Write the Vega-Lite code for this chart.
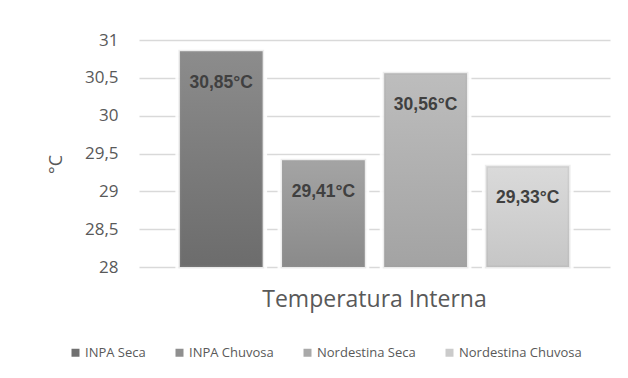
{
  "$schema": "https://vega.github.io/schema/vega-lite/v6.json",
  "width": 471,
  "height": 227,
  "autosize": {"type": "none"},
  "padding": {"left": 139, "top": 40, "right": 18, "bottom": 111},
  "background": "#ffffff",
  "config": {
    "font": "Open Sans",
    "view": {"stroke": null}
  },
  "data": {
    "values": [
      {"grupo": "Temperatura Interna", "serie": "INPA Seca", "valor": 30.85},
      {"grupo": "Temperatura Interna", "serie": "INPA Chuvosa", "valor": 29.41},
      {"grupo": "Temperatura Interna", "serie": "Nordestina Seca", "valor": 30.56},
      {"grupo": "Temperatura Interna", "serie": "Nordestina Chuvosa", "valor": 29.33}
    ]
  },
  "transform": [
    {"calculate": "replace(format(datum.valor, '.2f'), '.', ',') + '°C'", "as": "rotulo"}
  ],
  "encoding": {
    "x": {
      "field": "grupo",
      "type": "nominal",
      "scale": {"paddingInner": 0, "paddingOuter": 0.105},
      "axis": {
        "title": null,
        "labelAngle": 0,
        "labelFontSize": 23,
        "labelLimit": 500,
        "labelColor": "#595959",
        "labelPadding": 21,
        "ticks": false,
        "domain": false
      }
    },
    "xOffset": {
      "field": "serie",
      "type": "nominal",
      "sort": ["INPA Seca", "INPA Chuvosa", "Nordestina Seca", "Nordestina Chuvosa"],
      "scale": {"paddingInner": 0.19, "paddingOuter": 0}
    },
    "y": {
      "field": "valor",
      "type": "quantitative",
      "scale": {"domain": [28, 31], "zero": false, "nice": false},
      "axis": {
        "title": "°C",
        "titleAngle": -90,
        "titleFontSize": 18,
        "titleFontWeight": "normal",
        "titleColor": "#595959",
        "titleX": -83,
        "titleY": 124,
        "titleAlign": "center",
        "titleBaseline": "middle",
        "values": [28, 28.5, 29, 29.5, 30, 30.5, 31],
        "labelExpr": "replace(format(datum.value, '~g'), '.', ',')",
        "labelFontSize": 17,
        "labelColor": "#595959",
        "labelPadding": 21,
        "ticks": false,
        "domain": false,
        "grid": true,
        "gridColor": "#d9d9d9",
        "gridWidth": 1.5
      }
    }
  },
  "layer": [
    {
      "mark": {"type": "bar", "stroke": "#ffffff", "strokeWidth": 9, "strokeOpacity": 0.9},
      "encoding": {
        "y2": {"datum": 28},
        "fill": {
          "field": "serie",
          "type": "nominal",
          "scale": {
            "domain": ["INPA Seca", "INPA Chuvosa", "Nordestina Seca", "Nordestina Chuvosa"],
            "range": ["#707070", "#8f8f8f", "#a9a9a9", "#cbcbcb"]
          },
          "legend": {
            "title": null,
            "orient": "none",
            "direction": "horizontal",
            "legendX": -70,
            "legendY": 306,
            "symbolType": "square",
            "symbolSize": 64,
            "symbolStrokeWidth": 0,
            "labelFontSize": 13,
            "labelColor": "#595959",
            "labelOffset": 3,
            "columnPadding": 27
          }
        }
      }
    },
    {
      "mark": {"type": "bar", "stroke": "#9a9a9a", "strokeWidth": 3, "strokeOpacity": 0.18},
      "encoding": {
        "y2": {"datum": 28},
        "fill": {
          "condition": [
            {
              "test": "datum.serie === 'INPA Seca'",
              "value": {"gradient": "linear", "x1": 0, "y1": 0, "x2": 0, "y2": 1,
                "stops": [{"offset": 0, "color": "#8c8c8c"}, {"offset": 1, "color": "#6c6c6c"}]}
            },
            {
              "test": "datum.serie === 'INPA Chuvosa'",
              "value": {"gradient": "linear", "x1": 0, "y1": 0, "x2": 0, "y2": 1,
                "stops": [{"offset": 0, "color": "#a4a4a4"}, {"offset": 1, "color": "#8a8a8a"}]}
            },
            {
              "test": "datum.serie === 'Nordestina Seca'",
              "value": {"gradient": "linear", "x1": 0, "y1": 0, "x2": 0, "y2": 1,
                "stops": [{"offset": 0, "color": "#bdbdbd"}, {"offset": 1, "color": "#a3a3a3"}]}
            }
          ],
          "value": {"gradient": "linear", "x1": 0, "y1": 0, "x2": 0, "y2": 1,
            "stops": [{"offset": 0, "color": "#dadada"}, {"offset": 1, "color": "#c6c6c6"}]}
        }
      }
    },
    {
      "mark": {
        "type": "text",
        "font": "Liberation Sans",
        "fontWeight": "bold",
        "fontSize": 17.5,
        "color": "#404040",
        "baseline": "middle",
        "dy": 32
      },
      "encoding": {
        "text": {"field": "rotulo", "type": "nominal"}
      }
    }
  ]
}
